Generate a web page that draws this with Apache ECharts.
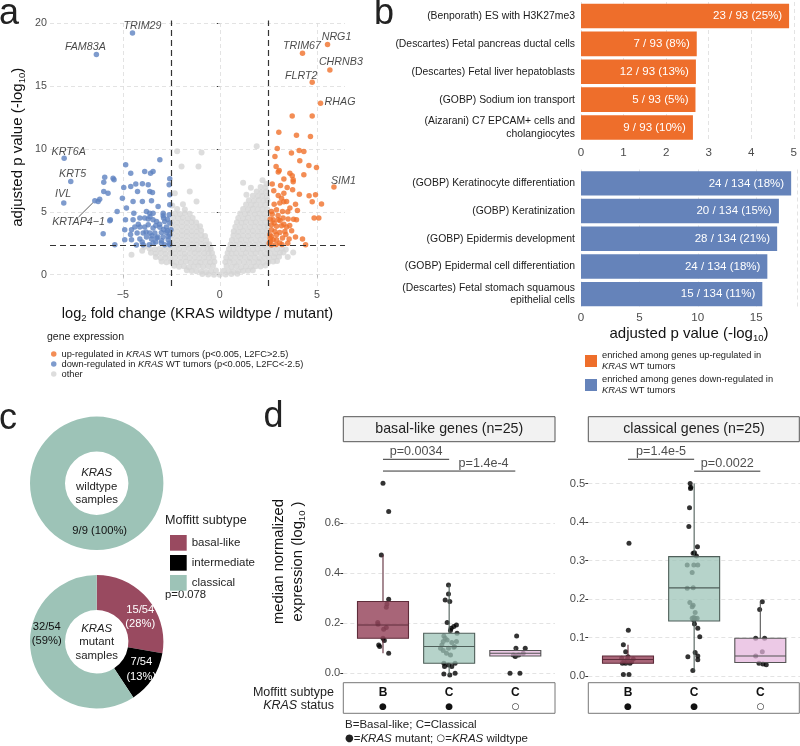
<!DOCTYPE html>
<html><head><meta charset="utf-8"><title>KRAS figure</title>
<script src="https://cdn.jsdelivr.net/npm/echarts@6/dist/echarts.min.js"></script>
<style>html,body{margin:0;padding:0;background:#fff;}#chart{width:800px;height:746px;}</style>
</head><body><div id="chart"></div>
<script>
// ================= DATA =================
// --- panel a: volcano ---
const volcanoXTicks = [-5, 0, 5];
const volcanoYTicks = [0, 5, 10, 15, 20];
const l2fcCut = 2.5;
const pCut = 0.005;

const upGenes = [
  {name:'NRG1', value:[5.55,18.3]}, {name:'TRIM67', value:[4.26,17.6]}, {name:'CHRNB3', value:[5.67,16.27]},
  {name:'FLRT2', value:[4.76,15.29]}, {name:'RHAG', value:[5.19,13.62]}, {name:'SIM1', value:[5.88,6.96]}
];
const downGenes = [
  {name:'TRIM29', value:[-4.5,19.2]}, {name:'FAM83A', value:[-6.36,17.5]}, {name:'KRT6A', value:[-8.02,9.26]},
  {name:'KRT5', value:[-7.68,7.4]}, {name:'IVL', value:[-8.04,5.69]}, {name:'KRTAP4\u22121', value:[-6.44,5.87]}
];

const upPoints = [
  [3.73,12.62],[4.76,12.62],[3.04,11.32],[3.95,11.08],[4.67,10.98],[2.96,10.03],[3.69,9.66],[4.09,9.87],[4.33,9.79],
  [2.84,9.39],[4.12,9.05],[4.59,8.68],[4.98,8.52],[3.06,8.28],[3.01,8.15],[3.61,8.07],[3.73,7.86],[4.33,7.94],
  [3.78,7.54],[3.78,7.38],[3.13,7.09],[3.47,6.93],[2.78,6.67],[3.30,6.48],[3.01,6.30],[3.75,6.75],[4.60,6.27],
  [4.93,6.35],[4.76,5.79],[5.24,5.61],[4.86,4.50],[5.10,4.50],[4.26,2.83],[4.42,2.38],
  [3.18,6.08],[3.44,5.82],[3.09,5.69],[2.66,5.03],[2.92,5.16],[3.23,5.03],[3.61,5.29],[3.95,4.37],
  [2.75,4.37],[3.01,4.37],[3.26,4.50],[3.52,4.42],[2.66,3.97],[2.92,3.84],[3.18,3.89],[3.44,3.78],
  [2.66,3.57],[2.84,3.44],[3.09,3.36],[3.35,3.44],[2.66,3.04],[2.92,3.17],[3.23,2.91],[2.92,2.78],
  [3.57,2.83],[2.75,2.78],[2.66,2.35],[3.09,2.51],[2.61,2.65],[2.58,3.17],
  [2.7,4.8],[2.8,5.6],[3.0,4.7],[3.3,4.0],[2.6,4.4],[3.4,3.2],[3.7,3.5],[2.55,2.5],[2.9,2.4],[3.5,5.0],
  [3.8,4.4],[3.3,5.8],[2.7,7.2],[2.9,8.6],[3.2,2.4],[2.6,2.9],[3.6,3.9],[3.9,3.0],[2.8,4.1],[3.1,4.3],
  [3.5,2.5],[4.0,5.1],[3.3,7.6],[4.1,6.4],[3.9,5.6]
];
const downPoints = [
  [-3.09,9.13],[-4.85,8.73],[-3.87,8.2],[-3.44,8.2],[-3.57,8.07],[-4.59,8.07],[-5.5,7.67],[-5.98,7.35],[-3.99,7.22],
  [-4.33,7.2],[-4.59,7.01],[-4.95,6.93],[-2.58,7.62],[-2.61,7.14],[-3.61,6.61],[-3.47,6.53],[-4.24,6.61],[-5.98,6.61],
  [-5.76,6.48],[-5.02,6.08],[-4.47,5.82],[-3.99,5.82],[-6.19,6.0],[-3.18,5.42],[-2.58,5.56],[-5.29,5.03],[-3.78,5.03],
  [-3.61,4.89],[-2.92,4.89],[-2.61,4.76],[-4.86,4.37],[-5.64,4.37],[-4.12,4.5],[-3.87,4.5],[-4.47,4.37],[-3.44,4.37],
  [-3.26,4.23],[-2.84,4.23],[-2.58,4.1],[-2.75,3.78],[-3.09,3.76],[-3.44,3.7],[-3.69,3.97],[-3.87,3.78],[-4.12,3.78],
  [-4.38,3.78],[-4.55,3.57],[-4.9,3.57],[-6.01,3.25],[-4.26,3.31],[-3.95,3.31],[-3.61,3.31],[-3.35,3.31],[-3.01,3.36],
  [-2.75,3.36],[-2.58,3.17],[-4.9,2.78],[-4.55,2.78],[-4.12,2.83],[-3.78,2.99],[-3.52,2.83],[-3.26,2.91],[-2.92,2.99],
  [-2.66,2.78],[-5.41,2.38],[-4.3,2.35],[-3.95,2.38],[-3.64,2.38],[-3.44,2.51],[-3.01,2.51],[-2.84,2.38],[-2.58,2.38],
  [-2.66,3.04],[-2.52,3.57],[-3.2,3.0],[-3.0,2.7],[-2.7,3.5],[-3.3,3.9],[-2.9,4.5],[-3.1,4.0],[-2.7,4.4],[-3.5,3.1],
  [-3.8,3.4],[-4.0,2.6],[-3.3,2.6],[-2.6,2.5],[-4.6,3.2],[-4.2,4.0],[-3.6,4.6],[-2.9,3.6],[-5.93,7.75],[-5.45,7.55],
  [-6.27,5.82],[-5.67,4.29],[-3.69,7.14],[-3.52,5.87],[-4.81,5.29],[-4.43,4.89],[-3.69,4.42],[-3.44,4.89],[-2.92,4.68],
  [-2.58,6.35]
];
const otherPoints = [
  [-0.9,0.05],[-0.6,0.02],[-0.3,0.0],[0.0,0.0],[0.3,0.02],[0.6,0.05],[0.9,0.08],
  [-1.7,0.35],[-1.45,0.3],[-1.2,0.28],[-0.95,0.25],[-0.7,0.22],[-0.45,0.3],[-0.2,0.33],[0.2,0.32],[0.45,0.28],[0.7,0.25],[0.95,0.27],[1.2,0.3],[1.45,0.32],[1.7,0.36],
  [-2.35,0.7],[-2.1,0.62],[-1.85,0.66],[-1.6,0.6],[-1.35,0.64],[-1.1,0.68],[-0.85,0.62],[-0.6,0.66],[-0.35,0.7],[0.35,0.68],[0.6,0.63],[0.85,0.66],[1.1,0.6],[1.35,0.65],[1.6,0.62],[1.85,0.67],[2.1,0.64],[2.35,0.72],
  [-3.0,1.05],[-2.75,0.98],[-2.5,1.02],[-2.25,0.96],[-2.0,1.0],[-1.75,1.04],[-1.5,0.97],[-1.25,1.01],[-1.0,0.99],[-0.75,1.03],[-0.5,0.98],[-0.28,1.02],[0.28,1.0],[0.5,1.04],[0.75,0.97],[1.0,1.01],[1.25,0.98],[1.5,1.03],[1.75,0.99],[2.0,1.02],[2.25,0.96],[2.5,1.0],[2.75,1.04],[2.95,1.08],
  [-3.3,1.4],[-3.05,1.33],[-2.8,1.36],[-2.55,1.31],[-2.3,1.37],[-2.05,1.34],[-1.8,1.38],[-1.55,1.32],[-1.3,1.36],[-1.05,1.33],[-0.8,1.37],[-0.55,1.35],[-0.33,1.38],[0.33,1.36],[0.55,1.32],[0.8,1.37],[1.05,1.34],[1.3,1.38],[1.55,1.33],[1.8,1.36],[2.05,1.31],[2.3,1.37],[2.55,1.35],[2.8,1.39],[3.05,1.42],
  [-3.55,1.75],[-3.3,1.68],[-3.05,1.72],[-2.8,1.66],[-2.55,1.71],[-2.3,1.69],[-2.05,1.73],[-1.8,1.67],[-1.55,1.7],[-1.3,1.72],[-1.05,1.68],[-0.8,1.71],[-0.58,1.7],[-0.4,1.73],[0.4,1.72],[0.6,1.68],[0.85,1.71],[1.1,1.67],[1.35,1.73],[1.6,1.69],[1.85,1.7],[2.1,1.72],[2.35,1.67],[2.6,1.71],[2.85,1.69],[3.1,1.74],[3.28,1.76],
  [-3.62,2.08],[-3.35,2.02],[-3.1,2.06],[-2.85,2.01],[-2.6,2.07],[-2.35,2.03],[-2.1,2.05],[-1.85,2.02],[-1.6,2.08],[-1.35,2.04],[-1.1,2.01],[-0.85,2.06],[-0.62,2.03],[-0.47,2.07],[0.47,2.05],[0.7,2.02],[0.95,2.07],[1.2,2.03],[1.45,2.06],[1.7,2.01],[1.95,2.05],[2.2,2.08],[2.45,2.03],[2.7,2.06],[2.95,2.02],[3.2,2.08],
  [-2.45,2.42],[-2.2,2.38],[-1.95,2.43],[-1.7,2.37],[-1.45,2.41],[-1.2,2.39],[-0.95,2.44],[-0.72,2.38],[-0.55,2.42],[0.55,2.4],[0.8,2.37],[1.05,2.43],[1.3,2.39],[1.55,2.41],[1.8,2.38],[2.05,2.42],[2.3,2.37],[2.47,2.44],
  [-2.45,2.77],[-2.2,2.73],[-1.95,2.78],[-1.7,2.72],[-1.45,2.76],[-1.2,2.74],[-0.95,2.79],[-0.7,2.73],[0.62,2.76],[0.85,2.72],[1.1,2.78],[1.35,2.74],[1.6,2.77],[1.85,2.73],[2.1,2.76],[2.35,2.79],
  [-2.45,3.12],[-2.2,3.08],[-1.95,3.13],[-1.7,3.07],[-1.45,3.11],[-1.2,3.09],[-0.95,3.14],[-0.76,3.08],[0.7,3.11],[0.95,3.07],[1.2,3.12],[1.45,3.08],[1.7,3.13],[1.95,3.09],[2.2,3.11],[2.45,3.14],
  [-2.45,3.47],[-2.2,3.43],[-1.95,3.48],[-1.7,3.42],[-1.45,3.46],[-1.2,3.44],[-0.96,3.49],[0.72,3.46],[0.95,3.42],[1.2,3.48],[1.45,3.43],[1.7,3.47],[1.95,3.44],[2.2,3.46],[2.45,3.49],
  [-2.45,3.82],[-2.2,3.78],[-1.95,3.83],[-1.7,3.77],[-1.45,3.81],[-1.2,3.79],[-1.02,3.84],[0.8,3.81],[1.05,3.77],[1.3,3.83],[1.55,3.79],[1.8,3.82],[2.05,3.78],[2.3,3.81],[2.47,3.84],
  [-2.45,4.17],[-2.2,4.13],[-1.95,4.18],[-1.7,4.12],[-1.45,4.16],[-1.22,4.14],[0.88,4.16],[1.1,4.12],[1.35,4.18],[1.6,4.14],[1.85,4.17],[2.1,4.13],[2.35,4.16],
  [-2.4,4.52],[-2.15,4.48],[-1.9,4.53],[-1.65,4.47],[-1.4,4.51],[0.95,4.5],[1.2,4.47],[1.45,4.53],[1.7,4.49],[1.95,4.52],[2.2,4.48],[2.45,4.51],
  [-2.3,4.87],[-2.05,4.83],[-1.8,4.88],[-1.55,4.84],[1.05,4.86],[1.3,4.82],[1.55,4.88],[1.8,4.84],[2.05,4.87],[2.3,4.83],
  [-2.2,5.22],[-1.8,5.18],[1.2,5.21],[1.45,5.17],[1.7,5.23],[1.95,5.19],[2.2,5.22],[2.45,5.18],
  [-2.45,5.5],[1.35,5.57],[1.6,5.53],[1.85,5.58],[2.1,5.54],[2.35,5.56],
  [1.5,5.92],[1.75,5.88],[2.0,5.93],[2.25,5.89],[2.45,5.91],
  [1.7,6.27],[1.95,6.23],[2.2,6.28],[2.42,6.24],[1.9,6.62],[2.15,6.58],[2.4,6.63],[2.1,6.97],[2.35,6.93],
  [-2.2,9.8],[-0.94,9.7],[-1.1,8.6],[-1.97,8.6],[1.9,10.2],[2.2,7.5],[1.2,7.3],[-1.55,6.61],[-1.2,5.82],[-2.32,6.48],
  [-4.55,1.59],[3.78,1.77],[-4.0,1.9],[-3.9,2.2],[3.4,2.0],[3.5,1.4],[1.37,6.35],[-1.9,5.6],[2.4,7.2],[1.6,6.9]
];

// --- panel b: enrichment ---
const upTerms = ['(Benporath) ES with H3K27me3','(Descartes) Fetal pancreas ductal cells','(Descartes) Fetal liver hepatoblasts','(GOBP) Sodium ion transport','(Aizarani) C7 EPCAM+ cells and\ncholangiocytes'];
const upScores = [4.89, 2.72, 2.70, 2.69, 2.63];
const upHits = [23, 7, 12, 5, 9];
const upTotal = 93;
const downTerms = ['(GOBP) Keratinocyte differentiation','(GOBP) Keratinization','(GOBP) Epidermis development','(GOBP) Epidermal cell differentiation','(Descartes) Fetal stomach squamous\nepithelial cells'];
const downScores = [18.0, 16.95, 16.8, 15.96, 15.53];
const downHits = [24, 20, 28, 24, 15];
const downTotal = 134;

// --- panel c: Moffitt subtype donuts ---
const subtypeNames = ['basal-like','intermediate','classical'];
const wtCounts = [{name:'classical', value:9}];
const mutCounts = [{name:'basal-like', value:15},{name:'intermediate', value:7},{name:'classical', value:32}];
const subtypeP = 'p=0.078';

// --- panel d: box plots ---
const groupPos = [1, 2, 3];
const groupSubtype = ['B','C','C'];
const groupMutant = [true, true, false];
// [lower whisker, Q1, median, Q3, upper whisker]
const basalStats = [[0.08,0.14,0.193,0.287,0.473],[-0.007,0.04,0.107,0.16,0.353],[0.067,0.069,0.08,0.091,0.1]];
const classicalStats = [[0.033,0.033,0.043,0.052,0.081],[0.014,0.143,0.229,0.31,0.5],[0.029,0.035,0.052,0.098,0.193]];
const basalPointsB = [[1.0,0.76],[1.086,0.647],[0.975,0.473],[1.086,0.296],[1.06,0.277],[1.05,0.264],[0.92,0.203],[0.925,0.196],[1.05,0.183],[1.01,0.176],[1.0,0.14],[1.02,0.131],[0.935,0.113],[0.95,0.107],[1.086,0.08]];
const basalPointsC = [[1.99,0.353],[1.99,0.317],[1.94,0.293],[2.01,0.287],[2.03,0.18],[2.07,0.187],[2.11,0.193],[2.02,0.171],[1.92,0.149],[1.94,0.14],[1.91,0.127],[1.97,0.133],[2.04,0.123],[2.11,0.127],[1.87,0.1],[1.99,0.1],[2.07,0.104],[1.91,0.091],[1.96,0.08],[2.02,0.073],[2.08,0.107],[1.92,0.04],[1.99,0.033],[2.09,0.04],[1.93,0.027],[2.04,0.027],[1.92,-0.003],[2.01,-0.007],[2.09,0.0],[1.89,0.113],[2.12,0.16],[1.97,0.203]];
const basalPointsCwt = [[3.02,0.149],[3.01,0.1],[3.15,0.1],[2.97,0.073],[3.05,0.073],[3.12,0.08],[2.92,0.0],[3.07,0.0],[3.0,0.067]];
const classicalPointsB = [[1.015,0.345],[1.005,0.119],[0.93,0.081],[0.965,0.063],[0.905,0.046],[0.99,0.043],[1.08,0.044],[0.915,0.033],[0.965,0.033],[1.03,0.033],[0.93,0.004],[1.015,0.004],[0.94,0.037],[1.0,0.05],[1.055,0.037]];
const classicalPointsC = [[1.94,0.5],[1.95,0.49],[1.945,0.487],[1.93,0.437],[1.92,0.388],[2.05,0.336],[2.005,0.32],[1.985,0.319],[2.035,0.312],[1.895,0.288],[1.995,0.288],[2.055,0.288],[1.97,0.269],[1.895,0.228],[1.985,0.229],[1.935,0.191],[1.985,0.184],[1.97,0.18],[2.015,0.165],[1.995,0.152],[1.97,0.15],[2.015,0.15],[2.045,0.15],[1.995,0.145],[2.005,0.135],[2.055,0.124],[2.085,0.102],[1.905,0.05],[2.015,0.061],[2.055,0.052],[2.055,0.042],[1.98,0.014]];
const classicalPointsCwt = [[3.03,0.193],[2.99,0.173],[3.065,0.098],[2.93,0.098],[3.03,0.063],[2.93,0.052],[2.98,0.033],[3.04,0.031],[3.09,0.029]];
const basalSig = [{from:1,to:2,y:0.856,text:'p=0.0034',at:1.5},{from:1,to:3,y:0.809,text:'p=1.4e-4',at:2.52}];
const classicalSig = [{from:1,to:2,y:0.563,text:'p=1.4e-5',at:1.5},{from:2,to:3,y:0.532,text:'p=0.0022',at:2.5}];
const basalYTicks = [0, 0.2, 0.4, 0.6];
const classicalYTicks = [0, 0.1, 0.2, 0.3, 0.4, 0.5];

// ================= STYLE =================
const FONT = "'Liberation Sans', Arial, Helvetica, sans-serif";
const C_UP = '#F0702A', C_DOWN = '#5E82C0', C_OTHER = '#D5D5D5';
const BAR_UP = '#EE6E2B', BAR_DOWN = '#6583BA';
const subtypeColor = {'basal-like':'#994A60', 'intermediate':'#000000', 'classical':'#9DC3B7'};
const boxFill = ['rgba(153,74,96,0.85)','rgba(158,196,184,0.75)','rgba(228,180,220,0.72)'];
const boxBorder = ['#5e2c3a','#4f5f5a','#555555'];
const GRID_C = '#DCDCDC';
const geneLabelOffsets = {TRIM29:[10,-7], FAM83A:[-11,-7], KRT6A:[4.5,-6.6], KRT5:[1.8,-7.7], IVL:[-0.7,-9], 'KRTAP4\u22121':[-16.3,21.7],
  NRG1:[9,-7], TRIM67:[-0.5,-6.7], CHRNB3:[11,-7.7], FLRT2:[-11,-6.7], RHAG:[19.5,-1.6], SIM1:[9.5,-6.3]};

const chart = echarts.init(document.getElementById('chart'), null, {renderer:'canvas', width:800, height:746});
const minus = v => v < 0 ? '\u2212' + Math.abs(v) : String(v);
const subRich = {s:{fontSize:9.5, lineHeight:9.5, verticalAlign:'bottom', fontFamily:FONT, color:'#111'}};
const italicRich = (fs, lh) => ({i:{fontStyle:'italic', fontSize:fs, lineHeight:lh, fontFamily:FONT, color:'#222'}});
const gridLines = (xs, ys) => [...xs.map(v => ({xAxis:v})), ...ys.map(v => ({yAxis:v}))];

function geneLabelSeries(name, genes, color) {
  return {
    name, type:'scatter', xAxisIndex:0, yAxisIndex:0, z:4, silent:true, symbolSize:5.5,
    itemStyle:{color},
    data: genes.map(g => g.name === 'KRTAP4\u22121' ? {name:g.name, value:g.value, labelLine:{show:true, lineStyle:{color:'#333', width:0.8}}} : {name:g.name, value:g.value}),
    label:{show:true, position:'inside', formatter:'{b}', fontStyle:'italic', fontSize:10.7, color:'#1a1a1a', fontFamily:FONT},
    labelLine:{show:false},
    labelLayout: p => { const o = geneLabelOffsets[genes[p.dataIndex].name]; return {dx:o[0], dy:o[1]}; }
  };
}

function barLabel(hits, total) {
  return p => `${hits[p.dataIndex]} / ${total} (${Math.round(hits[p.dataIndex] / total * 100)}%)`;
}

function pieSeries(data, center, oneLine, shifts) {
  const total = data.reduce((a, d) => a + d.value, 0);
  return {
    type:'pie', center, radius:[31.7, 66.7], startAngle:90, clockwise:true, silent:true, avoidLabelOverlap:false,
    data: data.map(d => ({name:d.name, value:d.value, itemStyle:{color:subtypeColor[d.name]},
      label:{color: d.name === 'classical' ? '#111' : '#fff'}})),
    label:{show:true, position:'inside', fontSize:11.2, fontFamily:FONT, lineHeight:14.5,
      formatter: p => oneLine ? `${p.value}/${total} (${Math.round(p.value / total * 100)}%)` : `${p.value}/${total}\n(${Math.round(p.value / total * 100)}%)`},
    labelLine:{show:false},
    labelLayout: p => { const s = shifts[data[p.dataIndex].name] || [0,0]; return {dx:s[0], dy:s[1]}; },
    emphasis:{disabled:true}
  };
}

function boxPanel(gi, stats, ptsGroups, sig, yTicks) {
  const out = [];
  out.push({type:'scatter', xAxisIndex:gi, yAxisIndex:gi, z:2, silent:true, symbolSize:5,
    itemStyle:{color:'#000'}, data:[].concat(...ptsGroups),
    markLine:{z:1, silent:true, symbol:'none', label:{show:false}, lineStyle:{color:GRID_C, type:[4,3], width:0.8},
      data: yTicks.map(v => ({yAxis:v}))}});
  // whiskers (ggplot style, without end caps)
  stats.forEach((s, i) => {
    out.push({type:'line', xAxisIndex:gi, yAxisIndex:gi, z:3, silent:true, symbol:'none', connectNulls:false,
      lineStyle:{color:boxBorder[i], width:1.1},
      data:[[groupPos[i], s[0]], [groupPos[i], s[1]], '-', [groupPos[i], s[3]], [groupPos[i], s[4]]]});
  });
  // boxes: Q1..Q3 with median
  out.push({type:'boxplot', xAxisIndex:gi, yAxisIndex:gi, z:3, silent:true, boxWidth:[51,51],
    data: stats.map((s, i) => ({value:[groupPos[i], s[1], s[1], s[2], s[3], s[3]], itemStyle:{color:boxFill[i], borderColor:boxBorder[i], borderWidth:1.1}})),
    emphasis:{disabled:true}});
  sig.forEach(b => {
    out.push({type:'line', xAxisIndex:gi, yAxisIndex:gi, z:4, silent:true, symbol:'none',
      lineStyle:{color:'#333', width:1}, data:[[b.from, b.y],[b.to, b.y]]});
  });
  out.push({type:'scatter', xAxisIndex:gi, yAxisIndex:gi, z:4, silent:true, symbolSize:0,
    data: sig.map(b => ({name:b.text, value:[b.at, b.y]})),
    label:{show:true, position:'top', distance:1, formatter:'{b}', fontSize:12.6, color:'#222', fontFamily:FONT}});
  return out;
}

const dAxisX = gi => ({type:'value', gridIndex:gi, min:0.4, max:3.6,
  axisLine:{show:false}, axisTick:{show:false}, splitLine:{show:false},
  axisLabel:{customValues:groupPos, margin:5, fontFamily:FONT,
    formatter: v => { const i = Math.round(v) - 1; return `{b|${groupSubtype[i]}}\n{d|${groupMutant[i] ? '\u25CF' : '\u25CB'}}`; },
    rich:{b:{fontWeight:'bold', fontSize:12, lineHeight:13.5, color:'#111', fontFamily:FONT},
          d:{fontSize:9, lineHeight:13.5, color:'#111', fontFamily:"'DejaVu Sans', sans-serif"}}}});
const dAxisY = (gi, min, max, ticks, name) => ({type:'value', gridIndex:gi, min, max,
  axisLine:{show:false}, splitLine:{show:false},
  axisTick:{show:true, customValues:ticks, length:3, lineStyle:{color:'#333'}},
  axisLabel:{customValues:ticks, formatter: v => v.toFixed(1), fontSize:11.2, color:'#4d4d4d', margin:3, fontFamily:FONT},
  name: name || '', nameLocation:'middle', nameGap:36, nameRotate:90,
  nameTextStyle:{fontSize:14.8, lineHeight:19, color:'#111', fontFamily:FONT, rich:subRich}});

const T = (x, y, text, st) => ({type:'text', x, y, silent:true,
  style:Object.assign({text, fontFamily:FONT, fontSize:12, fill:'#222', align:'left', verticalAlign:'middle'}, st || {})});

const option = {
  animation:false,
  textStyle:{fontFamily:FONT},
  grid:[
    {left:50, top:20.5, width:295, height:265.5},
    {left:581, top:2, width:216, height:139.5},
    {left:581, top:169.5, width:216, height:138.5},
    {left:343.3, top:442, width:211.7, height:239},
    {left:588.3, top:442, width:211.7, height:239}
  ],
  xAxis:[
    {type:'value', gridIndex:0, min:-8.75, max:6.45, axisLine:{show:false}, splitLine:{show:false},
     axisTick:{show:true, customValues:volcanoXTicks, length:3, lineStyle:{color:'#333'}},
     axisLabel:{customValues:volcanoXTicks, formatter:minus, fontSize:10.7, color:'#4d4d4d', margin:4},
     name:'log{s|2} fold change (KRAS wildtype / mutant)', nameLocation:'middle', nameGap:19,
     nameTextStyle:{fontSize:14.6, lineHeight:18, color:'#111', rich:subRich}},
    {type:'value', gridIndex:1, min:0, max:5, interval:1, axisLine:{show:false}, axisTick:{show:false},
     splitLine:{show:true, lineStyle:{color:GRID_C, type:[4,3], width:0.8}},
     axisLabel:{fontSize:11.6, color:'#4d4d4d', margin:5}},
    {type:'value', gridIndex:2, min:0, max:18.5, interval:5, axisLine:{show:false}, axisTick:{show:false},
     splitLine:{show:true, lineStyle:{color:GRID_C, type:[4,3], width:0.8}},
     axisLabel:{fontSize:11.6, color:'#4d4d4d', margin:4, showMaxLabel:false},
     name:'adjusted p value (-log{s|10})', nameLocation:'middle', nameGap:17,
     nameTextStyle:{fontSize:15, lineHeight:18, color:'#111', rich:subRich}},
    dAxisX(3), dAxisX(4)
  ],
  yAxis:[
    {type:'value', gridIndex:0, min:-0.9, max:20.2, axisLine:{show:false}, splitLine:{show:false},
     axisTick:{show:true, customValues:volcanoYTicks, length:3, lineStyle:{color:'#333'}},
     axisLabel:{customValues:volcanoYTicks, fontSize:10.7, color:'#4d4d4d', margin:3},
     name:'adjusted p value (-log{s|10})', nameLocation:'middle', nameGap:23, nameRotate:90,
     nameTextStyle:{fontSize:15, lineHeight:18, color:'#111', rich:subRich, padding:[0,0,0,12]}},
    {type:'category', gridIndex:1, inverse:true, data:upTerms, axisLine:{show:false}, axisTick:{show:false},
     axisLabel:{fontSize:10.4, color:'#1a1a1a', margin:6, lineHeight:12.3, align:'right'}},
    {type:'category', gridIndex:2, inverse:true, data:downTerms, axisLine:{show:false}, axisTick:{show:false},
     axisLabel:{fontSize:10.4, color:'#1a1a1a', margin:6, lineHeight:12.3, align:'right'}},
    dAxisY(3, -0.0308, 0.9252, basalYTicks, 'median normalized\nexpression (log{s|10} )'),
    dAxisY(4, -0.013, 0.6078, classicalYTicks, '')
  ],
  legend:[
    {data:['up-regulated','down-regulated','other'], orient:'vertical', left:46, top:344, icon:'circle',
     itemWidth:5.5, itemHeight:5.5, itemGap:0, selectedMode:false,
     textStyle:{fontSize:9.3, lineHeight:10, color:'#222', rich:italicRich(9.3, 10)},
     formatter: n => ({'up-regulated':'up-regulated in {i|KRAS} WT tumors (p<0.005, L2FC>2.5)',
       'down-regulated':'down-regulated in {i|KRAS} WT tumors (p<0.005, L2FC<-2.5)', 'other':'other'})[n]},
    {data:['upBar','downBar'], orient:'vertical', left:580, top:345, icon:'rect', itemWidth:12, itemHeight:12,
     itemGap:2, selectedMode:false, textStyle:{fontSize:9.3, lineHeight:11, color:'#222', rich:italicRich(9.3, 11)},
     formatter: n => n === 'upBar' ? 'enriched among genes up-regulated in\n{i|KRAS} WT tumors' : 'enriched among genes down-regulated in\n{i|KRAS} WT tumors'},
    {data:subtypeNames, orient:'vertical', left:165, top:530, icon:'rect', itemWidth:16.7, itemHeight:15.7,
     itemGap:4.3, selectedMode:false, textStyle:{fontSize:11.5, color:'#222'}}
  ],
  series:[
    {name:'other', type:'scatter', xAxisIndex:0, yAxisIndex:0, z:2, silent:true, symbolSize:6,
     itemStyle:{color:C_OTHER}, data:otherPoints,
     markLine:{z:1, silent:true, symbol:'none', label:{show:false}, lineStyle:{color:GRID_C, type:[4,3], width:0.8},
       data:gridLines(volcanoXTicks, volcanoYTicks)}},
    {name:'down-regulated', type:'scatter', xAxisIndex:0, yAxisIndex:0, z:3, silent:true, symbolSize:5.5,
     itemStyle:{color:C_DOWN}, data:downPoints},
    {name:'up-regulated', type:'scatter', xAxisIndex:0, yAxisIndex:0, z:3, silent:true, symbolSize:5.5,
     itemStyle:{color:C_UP}, data:upPoints,
     markLine:{z:6, silent:true, symbol:'none', label:{show:false}, lineStyle:{color:'#333', type:[6,4], width:1.2},
       data:[{xAxis:-l2fcCut},{xAxis:l2fcCut},{yAxis:-Math.log10(pCut)}]}},
    geneLabelSeries('down-regulated', downGenes, C_DOWN),
    geneLabelSeries('up-regulated', upGenes, C_UP),
    {name:'upBar', type:'bar', xAxisIndex:1, yAxisIndex:1, barWidth:'88%', silent:true,
     itemStyle:{color:BAR_UP}, data:upScores,
     label:{show:true, position:'insideRight', distance:7, color:'#fff', fontSize:11.5, formatter:barLabel(upHits, upTotal)}},
    {name:'downBar', type:'bar', xAxisIndex:2, yAxisIndex:2, barWidth:'88%', silent:true,
     itemStyle:{color:BAR_DOWN}, data:downScores,
     label:{show:true, position:'insideRight', distance:7, color:'#fff', fontSize:11.5, formatter:barLabel(downHits, downTotal)}},
    pieSeries(wtCounts, [96.7, 483.3], true, {'classical':[3,-5]}),
    pieSeries(mutCounts, [96.7, 641.7], false, {'basal-like':[3.5,9], 'intermediate':[1,-1], 'classical':[0,-23]}),
    ...boxPanel(3, basalStats, [basalPointsB, basalPointsC, basalPointsCwt], basalSig, basalYTicks),
    ...boxPanel(4, classicalStats, [classicalPointsB, classicalPointsC, classicalPointsCwt], classicalSig, classicalYTicks)
  ],
  graphic:[
    T(-1, 14.5, 'a', {fontSize:36}),
    T(374, 14.2, 'b', {fontSize:36}),
    T(-1, 419.5, 'c', {fontSize:36}),
    T(263.5, 417.5, 'd', {fontSize:36}),
    T(47, 337, 'gene expression', {fontSize:10.5}),
    T(96.7, 486.5, '{i|KRAS}\nwildtype\nsamples', {align:'center', fontSize:11.4, lineHeight:13.5, rich:italicRich(11.4, 13.5)}),
    T(96.7, 642, '{i|KRAS}\nmutant\nsamples', {align:'center', fontSize:11.4, lineHeight:13.5, rich:italicRich(11.4, 13.5)}),
    T(165, 520.7, 'Moffitt subtype', {fontSize:12.6}),
    T(165, 595, subtypeP, {fontSize:11.3}),
    {type:'rect', shape:{x:343.3, y:416.7, width:211.7, height:25}, silent:true, style:{fill:'#F2F2F2', stroke:'#555', lineWidth:1}},
    {type:'rect', shape:{x:588.3, y:416.7, width:211, height:25}, silent:true, style:{fill:'#F2F2F2', stroke:'#555', lineWidth:1}},
    T(449.2, 429.2, 'basal-like genes (n=25)', {align:'center', fontSize:14.2}),
    T(694, 429.2, 'classical genes (n=25)', {align:'center', fontSize:14.2}),
    {type:'rect', shape:{x:343.3, y:682.7, width:211.7, height:30.6}, silent:true, style:{fill:'none', stroke:'#777', lineWidth:1}},
    {type:'rect', shape:{x:588.3, y:682.7, width:211, height:30.6}, silent:true, style:{fill:'none', stroke:'#777', lineWidth:1}},
    T(334, 692.7, 'Moffitt subtype', {align:'right', fontSize:12.5}),
    T(334, 706, '{i|KRAS} status', {align:'right', fontSize:12.5, rich:italicRich(12.5, 14)}),
    T(345, 725, 'B=Basal-like; C=Classical', {fontSize:11.5}),
    T(345, 738.7, '{n|\u25CF}={i|KRAS} mutant; {n|\u25CB}={i|KRAS} wildtype', {fontSize:11.5,
      rich:Object.assign(italicRich(11.5, 13), {n:{fontSize:10, lineHeight:13, fontFamily:"'DejaVu Sans', sans-serif", color:'#111'}})})
  ]
};
chart.setOption(option);
</script></body></html>
